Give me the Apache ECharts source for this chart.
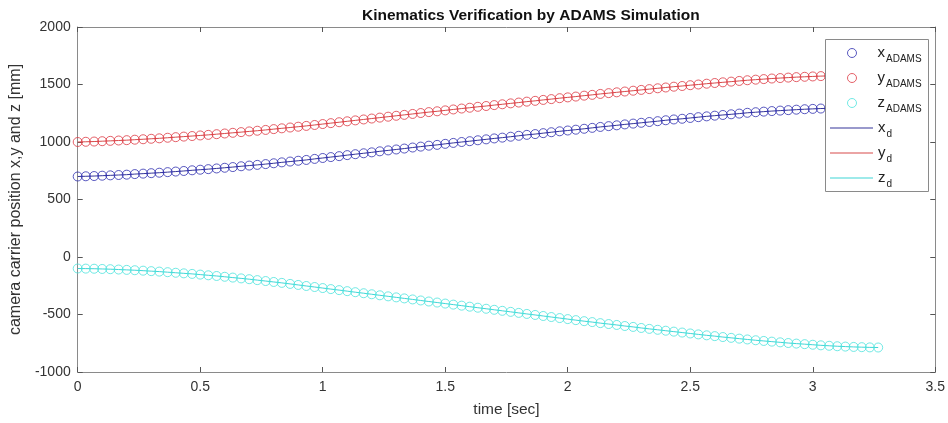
<!DOCTYPE html>
<html>
<head>
<meta charset="utf-8">
<script src="https://cdn.jsdelivr.net/npm/echarts@6/dist/echarts.min.js"></script>
<style>
html,body{margin:0;padding:0;background:#fff;}
#chart{width:948px;height:423px;}
</style>
</head>
<body>
<div id="chart"></div>
<script>
var time = [0,0.033,0.067,0.1,0.133,0.167,0.2,0.233,0.267,0.3,
0.333,0.367,0.4,0.433,0.467,0.5,0.533,0.567,0.6,0.633,
0.667,0.7,0.733,0.767,0.8,0.833,0.867,0.9,0.933,0.967,
1.0,1.033,1.067,1.1,1.133,1.167,1.2,1.233,1.267,1.3,
1.333,1.367,1.4,1.433,1.467,1.5,1.533,1.567,1.6,1.633,
1.667,1.7,1.733,1.767,1.8,1.833,1.867,1.9,1.933,1.967,
2.0,2.033,2.067,2.1,2.133,2.167,2.2,2.233,2.267,2.3,
2.333,2.367,2.4,2.433,2.467,2.5,2.533,2.567,2.6,2.633,
2.667,2.7,2.733,2.767,2.8,2.833,2.867,2.9,2.933,2.967,
3.0,3.033,3.067,3.1,3.133,3.167,3.2,3.233,3.267];

var xAdams = [700,702,704,707,710,713,716,721,725,729,
733,738,743,748,754,759,764,770,776,782,
789,795,801,808,815,823,830,837,844,853,
861,869,877,886,894,902,910,919,927,935,
943,952,960,968,975,984,992,1000,1007,1015,
1023,1031,1038,1046,1054,1062,1069,1077,1085,1093,
1100,1107,1115,1123,1131,1138,1145,1153,1160,1167,
1174,1181,1189,1196,1202,1209,1216,1223,1229,1235,
1241,1247,1254,1259,1264,1269,1273,1277,1281,1285,
1288,1291,1293,1295,1297,1298,1299,1300,1300];

var yAdams = [1000,1002,1004,1007,1010,1013,1016,1020,1024,1028,
1032,1037,1042,1047,1052,1057,1062,1068,1074,1080,
1086,1092,1098,1105,1112,1119,1126,1133,1140,1148,
1156,1164,1172,1180,1188,1196,1204,1212,1220,1228,
1236,1244,1252,1260,1267,1275,1283,1291,1298,1306,
1313,1321,1328,1336,1343,1351,1358,1366,1373,1381,
1388,1395,1403,1410,1418,1425,1432,1439,1446,1453,
1460,1467,1474,1481,1487,1494,1500,1507,1513,1519,
1525,1531,1537,1542,1547,1552,1556,1560,1564,1567,
1570,1573,1575,1577,1579,1580,1581,1582,1582];

var zAdams = [-100,-101,-102,-104,-106,-109,-112,-115,-119,-123,
-127,-132,-137,-142,-147,-153,-159,-165,-172,-179,
-186,-193,-201,-209,-217,-225,-234,-243,-252,-261,
-270,-279,-288,-297,-306,-315,-324,-333,-342,-351,
-360,-369,-378,-387,-396,-405,-414,-423,-432,-441,
-450,-459,-468,-477,-486,-495,-504,-513,-522,-531,
-540,-549,-558,-566,-575,-583,-591,-600,-608,-617,
-625,-633,-641,-649,-657,-665,-673,-681,-688,-696,
-703,-710,-717,-724,-730,-736,-742,-748,-753,-758,
-763,-768,-772,-776,-779,-782,-784,-786,-787];

// desired trajectories (coincide with the ADAMS results in the picture)
var xDesired = xAdams;
var yDesired = yAdams;
var zDesired = zAdams;

var xTicks = [0, 3.5, 0.5];
var yTicks = [-1000, 2000, 500];

var markerNames = ['xADAMS','yADAMS','zADAMS'];
var lineNames = ['xd','yd','zd'];
var legendMain = {xADAMS:'x', yADAMS:'y', zADAMS:'z', xd:'x', yd:'y', zd:'z'};
var legendSub = {xADAMS:'ADAMS', yADAMS:'ADAMS', zADAMS:'ADAMS', xd:'d', yd:'d', zd:'d'};

function pairs(t, v){ return t.map(function(tt,i){ return [tt, v[i]]; }); }

var cBlue = '#2f2fb0', cRed = '#dd3a44', cCyan = '#4fe3dd';
var lBlue = '#34349a', lRed = '#d84a4a', lCyan = '#3fd6d6';

function scat(name, v, c){
  return {name:name, type:'scatter', data:pairs(time, v), symbol:'circle', symbolSize:9,
    itemStyle:{color:'rgba(255,255,255,0)', borderColor:c, borderWidth:1}, z:3, silent:true};
}
function line(name, v, c){
  return {name:name, type:'line', data:pairs(time, v), symbol:'none', showSymbol:false,
    lineStyle:{color:c, width:1}, itemStyle:{color:c}, z:2, silent:true};
}

var font = 'Liberation Sans, Arial, sans-serif';
function richFor(padLeft){
  return {
    m:{fontSize:15, fontFamily:font, color:'#222', verticalAlign:'top', lineHeight:16, padding:[0,0,0,padLeft]},
    s:{fontSize:10, fontFamily:font, color:'#222', verticalAlign:'top', lineHeight:10, padding:[9,0,0,1]}
  };
}
function fmt(n){ return '{m|'+legendMain[n]+'}{s|'+legendSub[n]+'}'; }

var chart = echarts.init(document.getElementById('chart'), null, {renderer:'canvas'});
var axisCommon = {
  axisLine:{show:true, onZero:false, lineStyle:{color:'#8a8a8a', width:1}},
  axisTick:{show:true, inside:true, length:5, lineStyle:{color:'#555'}},
  splitLine:{show:false}
};
var tickFont = {fontFamily:font, fontSize:14, color:'#333', formatter:function(v){ return String(v); }};
chart.setOption({
  animation:false,
  backgroundColor:'#fff',
  title:{text:'Kinematics Verification by ADAMS Simulation', left:357, top:3,
    textStyle:{fontFamily:font, fontSize:15.5, fontWeight:'bold', color:'#111'}},
  grid:{left:75, right:11, top:27, bottom:48},
  graphic:[{type:'rect', shape:{x:825.5, y:39.5, width:103, height:152},
    style:{fill:'#fff', stroke:'#8a8a8a', lineWidth:1}, z:10, silent:true}],
  legend:[{
    orient:'vertical', left:847, top:45, data:markerNames, z:20,
    padding:[0,0,0,0], itemGap:6, itemWidth:9, itemHeight:9,
    itemStyle:{borderWidth:1},
    formatter:fmt, textStyle:{fontFamily:font, color:'#222', rich:richFor(16)}
  },{
    orient:'vertical', left:830, top:120, data:lineNames.map(function(n){ return {name:n, icon:'rect'}; }), z:20,
    padding:[0,0,0,0], itemGap:6, itemWidth:43, itemHeight:1,
    formatter:fmt, textStyle:{fontFamily:font, color:'#222', rich:richFor(0)}
  }],
  xAxis:[
    Object.assign({type:'value', min:xTicks[0], max:xTicks[1], interval:xTicks[2], position:'bottom',
      name:'time [sec]', nameLocation:'middle', nameGap:30,
      nameTextStyle:{fontFamily:font, fontSize:15.5, color:'#333'},
      axisLabel:Object.assign({margin:8}, tickFont)}, axisCommon),
    Object.assign({type:'value', min:xTicks[0], max:xTicks[1], interval:xTicks[2], position:'top',
      axisLabel:{show:false}}, axisCommon)
  ],
  yAxis:[
    Object.assign({type:'value', min:yTicks[0], max:yTicks[1], interval:yTicks[2], position:'left',
      name:'camera carrier position x,y and z [mm]', nameLocation:'middle', nameGap:40, nameRotate:90,
      nameTextStyle:{fontFamily:font, fontSize:16, color:'#333'},
      axisLabel:Object.assign({margin:7}, tickFont)}, axisCommon),
    Object.assign({type:'value', min:yTicks[0], max:yTicks[1], interval:yTicks[2], position:'right',
      axisLabel:{show:false}}, axisCommon)
  ],
  series:[
    scat('xADAMS', xAdams, cBlue),
    scat('yADAMS', yAdams, cRed),
    scat('zADAMS', zAdams, cCyan),
    line('xd', xDesired, lBlue),
    line('yd', yDesired, lRed),
    line('zd', zDesired, lCyan)
  ]
});
</script>
</body>
</html>
